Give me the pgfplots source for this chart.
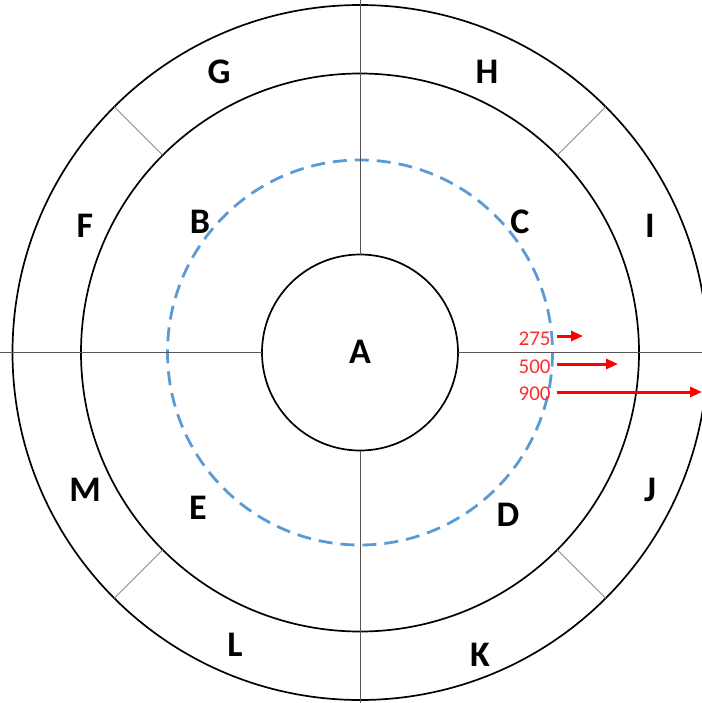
\documentclass[border=0pt]{standalone}
\usepackage{pgfplots}
\pgfplotsset{compat=1.18}
\usepackage{fontspec}
\setmainfont{Carlito}
\usetikzlibrary{arrows.meta}
\definecolor{dashblue}{RGB}{91,155,213}
\definecolor{gridgray}{RGB}{85,85,85}
\definecolor{diaggray}{RGB}{140,140,140}
\definecolor{numred}{RGB}{255,45,45}
\tikzset{lbl/.style={font=\fontsize{18}{20}\selectfont\bfseries, text=black},
         num/.style={text=numred, anchor=east, font=\fontsize{10.5}{12}\selectfont, inner sep=0pt}}

\begin{document}
\begin{tikzpicture}
\begin{axis}[
    width=351pt, height=351.5pt, scale only axis,
    xmin=0, xmax=702, ymin=0, ymax=703, y dir=reverse,
    hide axis, clip=true,
]
% circles
\draw[black, line width=0.85pt] (axis cs:360,352.5) circle[radius=347.5];
\draw[black, line width=0.85pt] (axis cs:360,352.5) circle[radius=279];
\draw[black, line width=0.85pt] (axis cs:360,352.5) circle[radius=98];
\draw[dashblue, line width=1.4pt, dash pattern=on 7pt off 4pt] (axis cs:360,352.5) circle[radius=192.5];

% dividing lines
\addplot[gridgray, line width=0.5pt] coordinates {(360,0) (360,254.5)};
\addplot[gridgray, line width=0.5pt] coordinates {(360,450.5) (360,703)};
\addplot[gridgray, line width=0.5pt] coordinates {(0,352.5) (262,352.5)};
\addplot[gridgray, line width=0.5pt] coordinates {(458,352.5) (702,352.5)};

% diagonal dividers in the outer ring
\addplot[diaggray, line width=0.5pt] coordinates {(162.7,155.2) (114.3,106.8)};
\addplot[diaggray, line width=0.5pt] coordinates {(557.3,155.2) (605.7,106.8)};
\addplot[diaggray, line width=0.5pt] coordinates {(162.7,549.8) (114.3,598.2)};
\addplot[diaggray, line width=0.5pt] coordinates {(557.3,549.8) (605.7,598.2)};

% arrows
\addplot[red, line width=1.5pt, -{Triangle[length=6pt,width=5pt]}] coordinates {(557,336) (583,336)};
\addplot[red, line width=1.5pt, -{Triangle[length=6pt,width=5pt]}] coordinates {(557,364) (618,364)};
\addplot[red, line width=1.5pt, -{Triangle[length=6pt,width=5pt]}] coordinates {(557,392) (702,392)};

\node[num] at (axis cs:551,339) {275};
\node[num] at (axis cs:551,367) {500};
\node[num] at (axis cs:551,394) {900};

% region labels
\node[lbl] at (axis cs:360,352) {A};
\node[lbl] at (axis cs:200,222) {B};
\node[lbl] at (axis cs:520,222) {C};
\node[lbl] at (axis cs:508,515) {D};
\node[lbl] at (axis cs:198,508) {E};
\node[lbl] at (axis cs:85,226) {F};
\node[lbl] at (axis cs:219,72) {G};
\node[lbl] at (axis cs:487,72) {H};
\node[lbl] at (axis cs:650,226) {I};
\node[lbl] at (axis cs:650,490) {J};
\node[lbl] at (axis cs:480,655) {K};
\node[lbl] at (axis cs:235,645) {L};
\node[lbl] at (axis cs:85,490) {M};
\end{axis}
\end{tikzpicture}
\end{document}
